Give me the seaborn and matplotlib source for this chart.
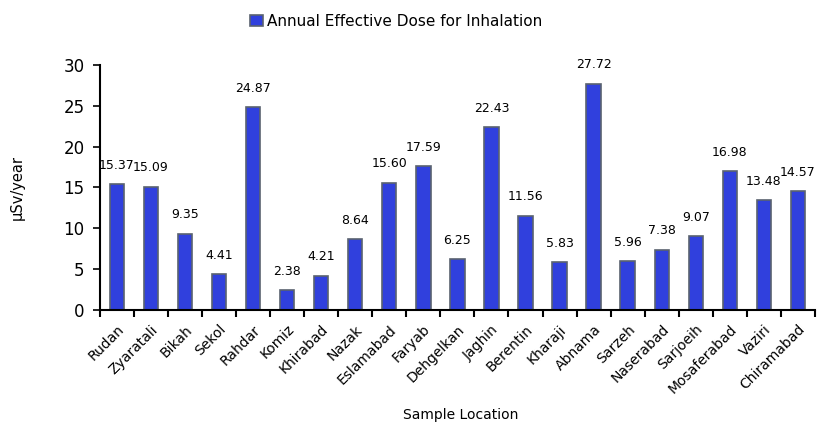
import matplotlib
matplotlib.use("Agg")
import matplotlib.pyplot as plt
import seaborn as sns
import numpy as np

# data
locations = ["Rudan", "Zyaratali", "Bikah", "Sekol", "Rahdar", "Komiz", "Khirabad",
             "Nazak", "Eslamabad", "Faryab", "Dehgelkan", "Jaghin", "Berentin",
             "Kharaji", "Abnama", "Sarzeh", "Naserabad", "Sarjoeih", "Mosaferabad",
             "Vaziri", "Chiramabad"]
dose = [15.37, 15.09, 9.35, 4.41, 24.87, 2.38, 4.21, 8.64, 15.60, 17.59, 6.25,
        22.43, 11.56, 5.83, 27.72, 5.96, 7.38, 9.07, 16.98, 13.48, 14.57]
series_name = "Annual Effective Dose for Inhalation"

sns.set_style("white")
plt.rcParams['font.family'] = ['DejaVu Sans']
plt.rcParams['text.color'] = 'black'
plt.rcParams['xtick.color'] = 'black'
plt.rcParams['ytick.color'] = 'black'
plt.rcParams['axes.labelcolor'] = 'black'

fig = plt.figure(figsize=(8.19, 4.28), dpi=100)
ax = fig.add_axes([0.122, 0.276, 0.873, 0.572])

sns.barplot(x=locations, y=dose, color="#3040DD", saturation=1, width=0.42,
            edgecolor="#5a6270", linewidth=1.2, label=series_name, ax=ax)

# value labels above bars
for i, v in enumerate(dose):
    ax.text(i, v + 1.5, f"{v:.2f}", ha="center", va="bottom", fontsize=9)

n = len(locations)
ax.set_xlim(-0.5, n - 0.5)
ax.set_ylim(0, 30)
ax.set_yticks(np.arange(0, 31, 5))
ax.tick_params(axis="y", labelsize=12, length=5, width=1.2, direction="out",
               left=True, pad=6)

ax.set_xticks(range(n))
ax.set_xticklabels(locations, rotation=45, ha="right", rotation_mode="anchor",
                   fontsize=10)
ax.tick_params(axis="x", which="major", length=0, pad=9)
ax.set_xticks(np.arange(-0.5, n, 1), minor=True)
ax.tick_params(axis="x", which="minor", length=5, width=1.5, direction="out",
               bottom=True)

for s in ["top", "right"]:
    ax.spines[s].set_visible(False)
for s in ["left", "bottom"]:
    ax.spines[s].set_color("black")
    ax.spines[s].set_linewidth(1.5)

ax.set_ylabel("µSv/year", fontsize=10.5, labelpad=28)
ax.set_xlabel("")
fig.text(0.563, 0.015, "Sample Location", ha="center", va="bottom", fontsize=10)

ax.legend(loc="upper center", bbox_to_anchor=(0.484, 1.0), bbox_transform=fig.transFigure,
          frameon=False, fontsize=11, handlelength=0.8, handleheight=0.8,
          handletextpad=0.3)

fig.savefig("out.png", dpi=100)
